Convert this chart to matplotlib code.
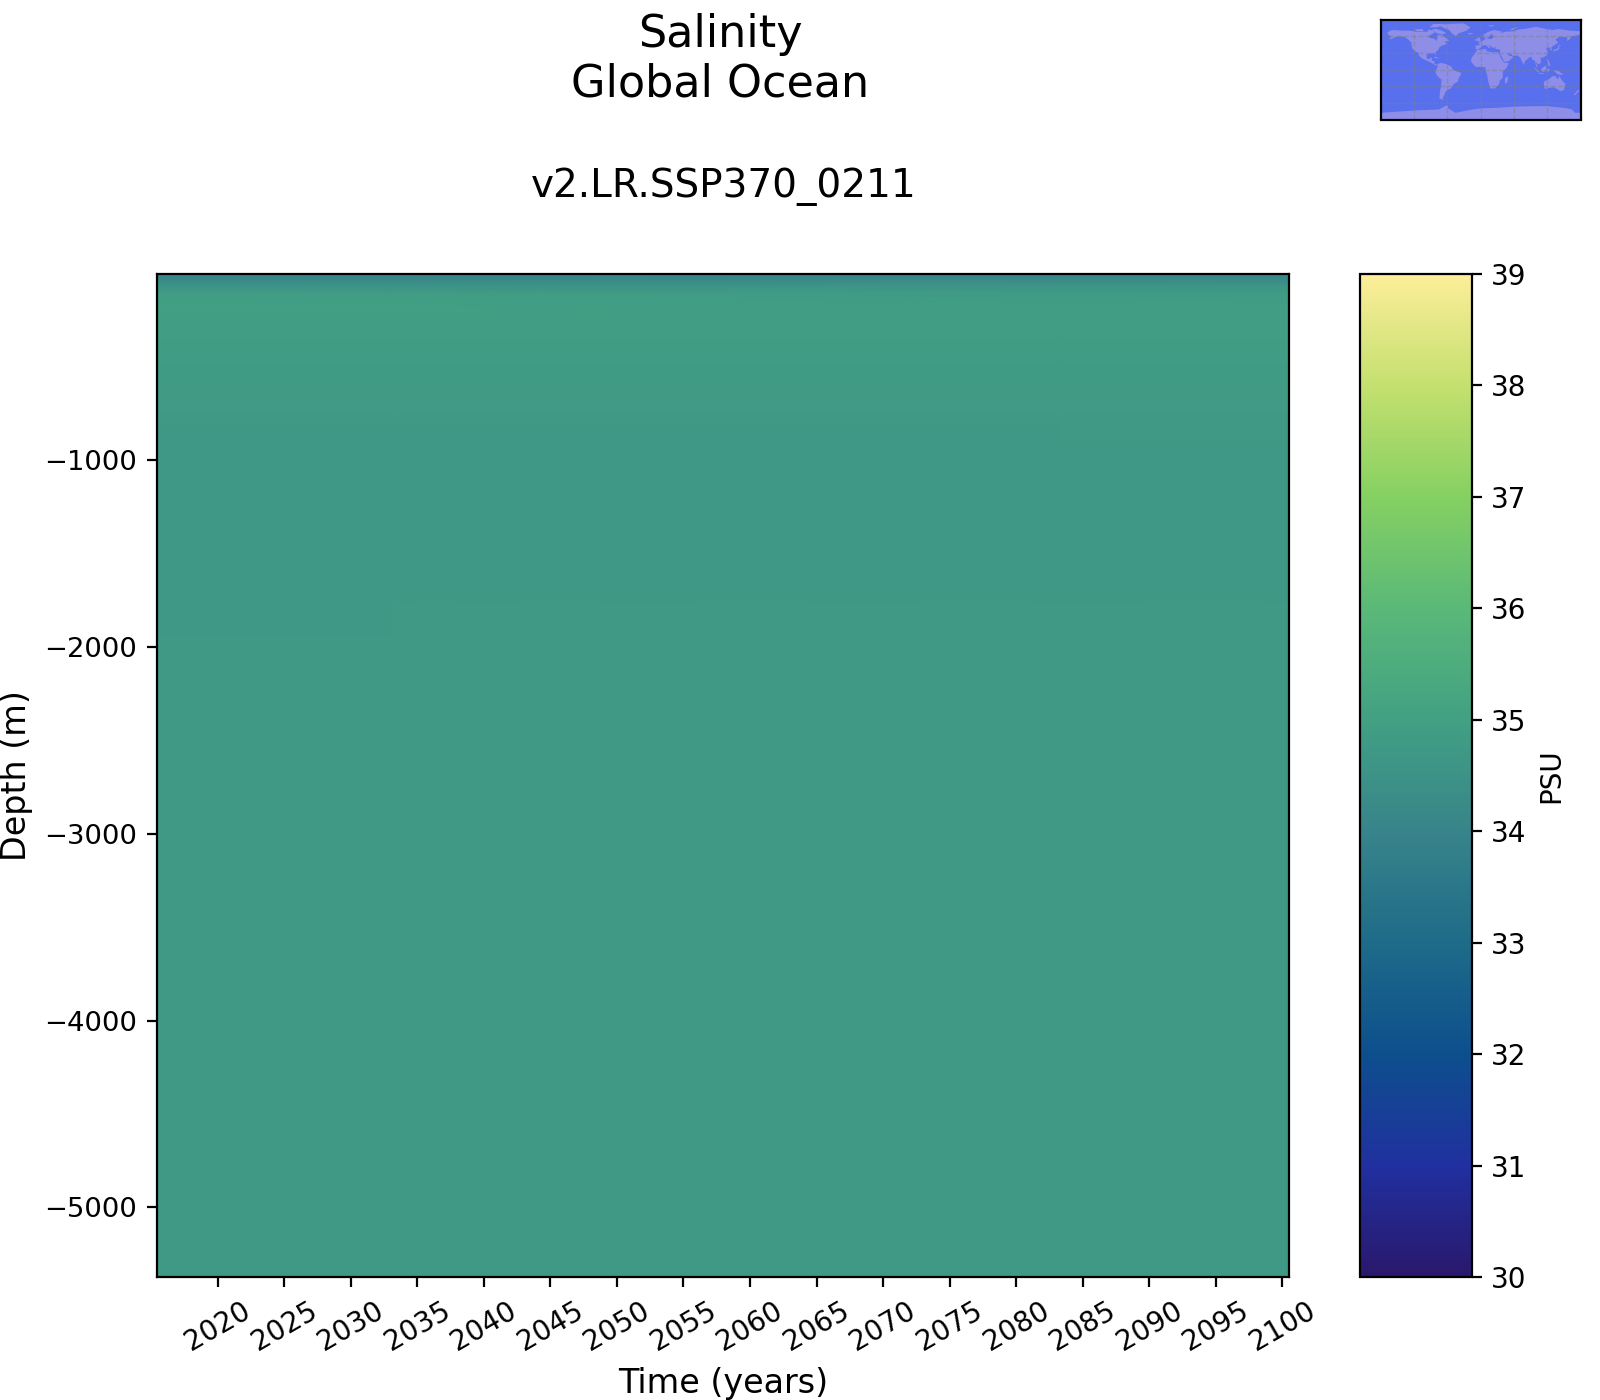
""" Salinity Hovmoller plot for the global ocean, depth against time. """
import matplotlib
matplotlib.use('Agg')
import matplotlib.cm as cm
import matplotlib.colors as mcolors
import matplotlib.pyplot as plt
import numpy as np

# Columns of the field. Pairs of close years keep the small steps sharp.
years = [2015.4, 2033.0, 2033.2, 2038.0, 2050.0, 2066.0, 2083.0, 2083.2, 2100.5]
depths = [-5, -30, -60, -110, -180, -300, -550, -700, -850, -1000,
          -1400, -1740, -1760, -1930, -1950, -2400, -3000, -4000, -5372]
sal_2015 = [34.10, 34.12, 34.42, 34.86, 34.97, 34.89, 34.82, 34.77, 34.72, 34.69,
            34.69, 34.69, 34.69, 34.69, 34.73, 34.75, 34.76, 34.76, 34.76]
sal_2033a = [34.10, 34.12, 34.42, 34.86, 34.96, 34.89, 34.82, 34.77, 34.72, 34.69,
             34.69, 34.69, 34.69, 34.69, 34.73, 34.75, 34.76, 34.76, 34.76]
sal_2033b = [34.10, 34.12, 34.42, 34.86, 34.96, 34.89, 34.82, 34.77, 34.72, 34.69,
             34.69, 34.69, 34.74, 34.74, 34.74, 34.75, 34.76, 34.76, 34.76]
sal_2038 = [34.10, 34.12, 34.42, 34.87, 34.96, 34.90, 34.82, 34.77, 34.72, 34.69,
            34.69, 34.69, 34.74, 34.74, 34.74, 34.75, 34.76, 34.76, 34.76]
sal_2050 = [34.10, 34.14, 34.44, 34.86, 34.94, 34.90, 34.83, 34.78, 34.72, 34.69,
            34.69, 34.70, 34.74, 34.74, 34.74, 34.75, 34.76, 34.76, 34.76]
sal_2066 = [34.10, 34.16, 34.46, 34.85, 34.90, 34.88, 34.83, 34.78, 34.72, 34.69,
            34.69, 34.70, 34.74, 34.74, 34.74, 34.75, 34.76, 34.76, 34.76]
sal_2083a = [34.10, 34.16, 34.48, 34.84, 34.90, 34.88, 34.83, 34.78, 34.71, 34.69,
             34.69, 34.70, 34.74, 34.74, 34.74, 34.75, 34.76, 34.76, 34.76]
sal_2083b = [34.10, 34.16, 34.48, 34.84, 34.90, 34.88, 34.83, 34.78, 34.75, 34.70,
             34.69, 34.70, 34.74, 34.74, 34.74, 34.75, 34.76, 34.76, 34.76]
sal_2100 = [34.12, 34.18, 34.50, 34.84, 34.89, 34.88, 34.83, 34.78, 34.75, 34.70,
            34.69, 34.70, 34.74, 34.74, 34.74, 34.75, 34.76, 34.76, 34.76]

year_ticks = [2020, 2025, 2030, 2035, 2040, 2045, 2050, 2055, 2060,
              2065, 2070, 2075, 2080, 2085, 2090, 2095, 2100]
depth_ticks = [-1000, -2000, -3000, -4000, -5000]
cbar_ticks = [30, 31, 32, 33, 34, 35, 36, 37, 38, 39]

# Colormap, one colour per PSU.
cmap_colors = ['#2a186c', '#20309f', '#0d4f8d', '#1e6b89', '#38848a',
               '#42a083', '#5ab978', '#85d062', '#c4e06f', '#fdee99']

# Land outlines for the locator map, (lon, lat).
north_america = [(-168, 66), (-162, 70), (-156, 71), (-140, 70), (-128, 70), (-115, 68), (-108, 68),
                 (-95, 68), (-94, 72), (-85, 70), (-82, 67), (-87, 64), (-94, 60), (-92, 57), (-82, 55),
                 (-80, 51), (-78, 55), (-77, 62), (-70, 62), (-65, 59), (-60, 55), (-56, 52), (-65, 50),
                 (-60, 46), (-66, 44), (-70, 43), (-74, 40), (-76, 35), (-81, 31), (-80, 25), (-83, 29),
                 (-90, 29), (-97, 27), (-97, 21), (-94, 18), (-90, 21), (-87, 21), (-88, 16), (-83, 15),
                 (-83, 10), (-78, 9), (-80, 7), (-85, 10), (-92, 14), (-97, 16), (-105, 20), (-110, 24),
                 (-113, 31), (-117, 32), (-122, 37), (-124, 42), (-124, 48), (-130, 54), (-135, 58),
                 (-145, 60), (-152, 59), (-160, 55), (-165, 55), (-160, 59), (-165, 62)]
south_america = [(-78, 9), (-72, 12), (-62, 10), (-52, 5), (-50, 0), (-44, -3), (-35, -6), (-35, -9),
                 (-39, -15), (-41, -22), (-48, -26), (-53, -34), (-58, -36), (-62, -39), (-65, -45),
                 (-68, -52), (-68, -55), (-74, -52), (-73, -40), (-71, -30), (-70, -18), (-76, -14),
                 (-81, -6), (-80, 0), (-77, 4)]
africa = [(-6, 35), (10, 37), (11, 33), (20, 31), (32, 31), (37, 20), (43, 12), (51, 12), (47, 3),
          (40, -4), (40, -15), (35, -20), (33, -27), (26, -34), (18, -34), (14, -22), (12, -10),
          (9, -1), (9, 4), (-4, 5), (-8, 4), (-13, 9), (-17, 14), (-16, 21), (-10, 29)]
eurasia = [(-9, 37), (-9, 43), (-1, 44), (-4, 48), (3, 51), (8, 54), (8, 57), (11, 55), (20, 55),
           (24, 59), (30, 60), (22, 60), (21, 65), (17, 61), (13, 55.5), (6, 58), (5, 62), (14, 68),
           (25, 71), (40, 68), (35, 65), (45, 68), (60, 69), (68, 72), (80, 73), (100, 77), (113, 74),
           (130, 71), (140, 73), (160, 70), (180, 69), (180, 65), (178, 62), (163, 60), (162, 56),
           (156, 51), (156, 58), (142, 59), (135, 54), (140, 48), (130, 42), (127, 39), (129, 35),
           (126, 34), (125, 39), (121, 40), (118, 38), (122, 31), (120, 26), (114, 22), (108, 21),
           (109, 13), (105, 9), (100, 13), (103, 2), (100, 6), (98, 16), (94, 17), (91, 23), (87, 21),
           (80, 15), (78, 8), (73, 18), (72, 21), (67, 25), (57, 25), (56, 27), (48, 30), (51, 25),
           (56, 24), (59, 22), (52, 16), (44, 13), (39, 21), (35, 28), (35, 36), (27, 37), (27, 41),
           (23, 38), (19, 42), (13, 45), (18, 40), (16, 38), (10, 44), (3, 43), (0, 39), (-5, 36)]
greenland = [(-73, 78), (-60, 82), (-30, 83), (-18, 76), (-25, 70), (-40, 65), (-44, 60), (-52, 65), (-55, 70)]
baffin = [(-80, 73), (-70, 70), (-62, 66), (-68, 63), (-78, 65), (-88, 72)]
victoria = [(-118, 72), (-105, 73), (-102, 69), (-115, 69)]
ellesmere = [(-92, 76), (-78, 76), (-62, 82), (-85, 82)]
iceland = [(-24, 65), (-15, 66), (-14, 64), (-22, 63)]
britain = [(-5, 50), (1, 51), (-2, 58), (-6, 57)]
ireland = [(-10, 52), (-6, 52), (-6, 55), (-10, 54)]
cuba = [(-85, 22), (-80, 23), (-74, 20), (-78, 20)]
svalbard = [(12, 79), (25, 80), (20, 77)]
novaya = [(52, 71), (58, 74), (68, 77), (58, 71)]
madagascar = [(44, -16), (49, -12), (50, -16), (47, -25), (44, -25)]
sumatra = [(95, 5), (104, -2), (106, -6), (101, -3)]
java = [(105, -6), (114, -7), (114, -8), (106, -8)]
borneo = [(109, 1), (117, 7), (119, 1), (115, -4), (110, -3)]
sulawesi = [(119, -5), (120, 1), (125, 1), (122, -4)]
new_guinea = [(131, -1), (141, -3), (150, -10), (142, -9), (138, -8)]
philippines = [(120, 18), (122, 18), (126, 7), (122, 7)]
japan = [(130, 32), (136, 34), (141, 36), (142, 43), (145, 43), (141, 45), (139, 38), (132, 35)]
australia = [(114, -22), (122, -18), (130, -12), (136, -12), (136, -15), (140, -17), (142, -11),
             (146, -19), (153, -26), (150, -37), (144, -39), (138, -35), (131, -32), (124, -33),
             (116, -35), (114, -28)]
new_zealand = [(167, -46), (172, -41), (175, -37), (178, -38), (174, -42), (170, -46)]
antarctica = [(-180, -90), (-180, -78), (-150, -76), (-120, -74), (-100, -73), (-75, -72), (-60, -64),
              (-58, -70), (-45, -78), (-20, -73), (0, -70), (30, -69), (60, -67), (90, -66), (120, -66),
              (150, -69), (165, -72), (170, -78), (180, -78), (180, -90)]
land_shapes = [north_america, south_america, africa, eurasia, greenland, baffin, victoria, ellesmere,
               iceland, britain, ireland, cuba, svalbard, novaya, madagascar, sumatra, java, borneo,
               sulawesi, new_guinea, philippines, japan, australia, new_zealand, antarctica]

cmap = mcolors.LinearSegmentedColormap.from_list('haline_like', cmap_colors, N=1024)
norm = mcolors.Normalize(vmin=30, vmax=39)

fig = plt.figure(figsize=(8, 7), dpi=200)
W, H = 1600.0, 1400.0


def px_axes(left, top, right, bottom):
	"""Axes placed with pixel edges, measured from the top left."""
	return fig.add_axes([left / W, 1 - bottom / H, (right - left) / W, (bottom - top) / H])


ax = px_axes(156.5, 274, 1289, 1277)
salinity = np.array([sal_2015, sal_2033a, sal_2033b, sal_2038, sal_2050,
                     sal_2066, sal_2083a, sal_2083b, sal_2100]).T
ax.pcolormesh(years, depths, salinity, cmap=cmap, norm=norm, shading='gouraud')
ax.set_xlim(2015.4, 2100.5)
ax.set_ylim(-5372, -5)
ax.set_xticks(year_ticks)
ax.set_yticks(depth_ticks)
ax.tick_params(axis='y', labelsize=9.85)
ax.tick_params(axis='x', labelsize=10, labelrotation=30)
ax.set_xlabel('Time (years)', fontsize=12, labelpad=4)
ax.set_ylabel('Depth (m)', fontsize=12, labelpad=4)

cax = px_axes(1360, 274, 1471.5, 1277)
cbar = fig.colorbar(cm.ScalarMappable(norm=norm, cmap=cmap), cax=cax)
cbar.set_ticks(cbar_ticks)
cbar.ax.tick_params(labelsize=10)
cbar.set_label('PSU', fontsize=10)

fig.text(720 / W, 1 - 35 / H, 'Salinity', fontsize=16, ha='center', va='center')
fig.text(720 / W, 1 - 84 / H, 'Global Ocean', fontsize=16, ha='center', va='center')
fig.text(723.5 / W, 1 - 187 / H, 'v2.LR.SSP370_0211', fontsize=14, ha='center', va='center')

# Locator map in the corner.
map_ax = px_axes(1380.5, 19.5, 1580.5, 119.5)
map_ax.set_facecolor('#5870ee')
for shape in land_shapes:
	lons, lats = zip(*shape)
	map_ax.fill(lons, lats, color='#8e8ee8', lw=0)
map_ax.set_xlim(-180, 180)
map_ax.set_ylim(-90, 90)
map_ax.set_xticks([-120, -60, 0, 60, 120])
map_ax.set_yticks([-60, -30, 0, 30, 60])
map_ax.grid(True, color='gray', linestyle='--', linewidth=0.5, alpha=0.5)
map_ax.tick_params(left=False, bottom=False, labelleft=False, labelbottom=False)

fig.savefig('out.png', dpi=200)
